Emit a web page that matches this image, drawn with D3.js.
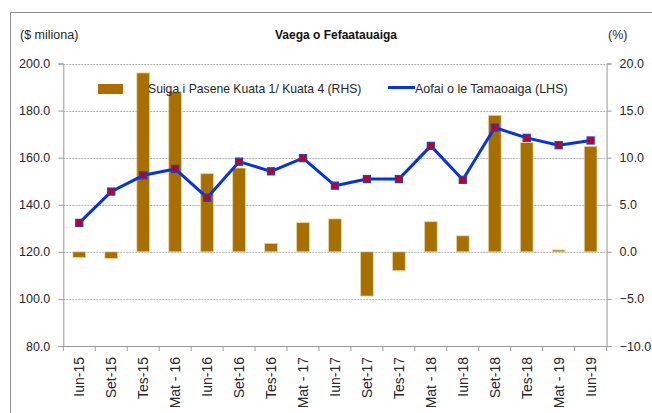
<!DOCTYPE html>
<html>
<head>
<meta charset="utf-8">
<script src="https://cdn.jsdelivr.net/npm/d3@7"></script>
<style>
  html, body { margin: 0; padding: 0; background: #fff; }
  svg { display: block; font-family: "Liberation Sans", Arial, sans-serif; }
</style>
</head>
<body>
<svg id="chart" width="652" height="413"></svg>
<script>
const categories = ["Iun-15","Set-15","Tes-15","Mat - 16","Iun-16","Set-16","Tes-16","Mat - 17","Iun-17","Set-17","Tes-17","Mat - 18","Iun-18","Set-18","Tes-18","Mat - 19","Iun-19"];
// Aofai o le Tamaoaiga (LHS, $ miliona)
const totalValues = [132.3,145.6,152.5,155.2,143.0,158.3,154.2,159.8,148.1,150.9,150.9,165.0,150.6,172.8,168.4,165.3,167.3];
// Suiga i Pasene Kuata 1/ Kuata 4 (RHS, %)
const changeValues = [-0.6,-0.7,19.0,17.0,8.3,8.9,0.9,3.1,3.5,-4.7,-2.0,3.2,1.7,14.5,11.6,0.2,11.2];
const leftTicks = [80,100,120,140,160,180,200];
const rightTicks = [-10,-5,0,5,10,15,20];

const svg = d3.select("#chart");
const X0 = 63.3, X1 = 606.6, YT = 63.5, YB = 346;
const axisColor = "#9a9a9a";
const textColor = "#262626";

// outer frame
svg.append("path").attr("d", "M10.5,413 L10.5,12.5 L652,12.5")
  .attr("fill","none").attr("stroke","#8c8c8c").attr("stroke-width",1);

const x = d3.scaleBand().domain(categories).range([X0, X1]).paddingInner(0.6).paddingOuter(0.3);
const yL = d3.scaleLinear().domain([80,200]).range([YB, YT]);
const yR = d3.scaleLinear().domain([-10,20]).range([YB, YT]);

// gridlines
svg.append("g").selectAll("line").data(leftTicks.filter(d => d > 80)).join("line")
  .attr("x1", X0).attr("x2", X1)
  .attr("y1", d => Math.round(yL(d)) + 0.5).attr("y2", d => Math.round(yL(d)) + 0.5)
  .attr("stroke", "#b0b0b0").attr("stroke-width", 1).attr("stroke-dasharray", "2,1");

// bars
svg.append("g").selectAll("rect").data(changeValues).join("rect")
  .attr("x", (d,i) => x(categories[i]))
  .attr("width", x.bandwidth())
  .attr("y", d => Math.min(yR(d), yR(0)))
  .attr("height", d => Math.abs(yR(d) - yR(0)))
  .attr("fill", "#a66f00")
  .attr("stroke", "#ecd5a2").attr("stroke-width", 0.8);

// left axis
const gL = svg.append("g").attr("transform", `translate(${X0},0)`)
  .call(d3.axisLeft(yL).tickValues(leftTicks).tickFormat(d3.format(".1f")).tickSize(5).tickPadding(8));
// right axis
const gR = svg.append("g").attr("transform", `translate(${X1},0)`)
  .call(d3.axisRight(yR).tickValues(rightTicks).tickFormat(d3.format(".1f")).tickSize(5).tickPadding(8));
[gL, gR].forEach(g => {
  g.select(".domain").attr("stroke", axisColor);
  g.selectAll(".tick line").attr("stroke", axisColor);
  g.selectAll(".tick text").attr("fill", textColor).style("font-size","12.5px").style("font-family","'Liberation Sans', Arial, sans-serif");
});

// bottom axis
const gB = svg.append("g").attr("transform", `translate(0,${YB})`)
  .call(d3.axisBottom(x).tickSize(0).tickPadding(0));
gB.select(".domain").attr("stroke", axisColor).attr("d", `M${X0},0.5H${X1}`);
gB.selectAll(".tick text")
  .attr("transform", "rotate(-90)")
  .attr("x", -11).attr("y", 0).attr("dy", "0.35em")
  .attr("text-anchor", "end")
  .attr("fill", textColor)
  .style("font-size", "14px").style("font-family","'Liberation Sans', Arial, sans-serif");
// category boundary tick marks
const bounds = d3.range(categories.length + 1).map(i => X0 + i * x.step());
svg.append("g").selectAll("line").data(bounds).join("line")
  .attr("x1", d => d).attr("x2", d => d)
  .attr("y1", YB).attr("y2", YB + 5)
  .attr("stroke", axisColor);

// line
const line = d3.line().x((d,i) => x(categories[i]) + x.bandwidth()/2).y(d => yL(d));
svg.append("path").datum(totalValues)
  .attr("d", line).attr("fill","none")
  .attr("stroke", "#0a34d2").attr("stroke-width", 3).attr("stroke-linejoin","round");
svg.append("g").selectAll("rect").data(totalValues).join("rect")
  .attr("x", (d,i) => x(categories[i]) + x.bandwidth()/2 - 3.5)
  .attr("y", d => yL(d) - 3.5)
  .attr("width", 7).attr("height", 7)
  .attr("fill", "#c0001a").attr("stroke", "#1f3fd0").attr("stroke-width", 1.3);

// titles
svg.append("text").attr("x", 336).attr("y", 39).attr("text-anchor","middle")
  .attr("font-weight","bold").attr("font-size","12px").attr("fill","#111")
  .text("Vaega o Fefaatauaiga");
svg.append("text").attr("x", 20).attr("y", 39)
  .attr("font-size","12.5px").attr("fill",textColor).text("($ miliona)");
svg.append("text").attr("x", 608).attr("y", 39)
  .attr("font-size","12.5px").attr("fill",textColor).text("(%)");

// legend
svg.append("rect").attr("x", 98).attr("y", 84).attr("width", 25).attr("height", 10).attr("fill", "#a66f00");
svg.append("text").attr("x", 148).attr("y", 93).attr("font-size","12.2px").attr("fill",textColor)
  .text("Suiga i Pasene Kuata 1/ Kuata 4 (RHS)");
svg.append("line").attr("x1", 388).attr("x2", 415).attr("y1", 87.5).attr("y2", 87.5)
  .attr("stroke", "#0a34d2").attr("stroke-width", 3);
svg.append("text").attr("x", 415).attr("y", 93).attr("font-size","12.5px").attr("fill",textColor)
  .text("Aofai o le Tamaoaiga (LHS)");
</script>
</body>
</html>
